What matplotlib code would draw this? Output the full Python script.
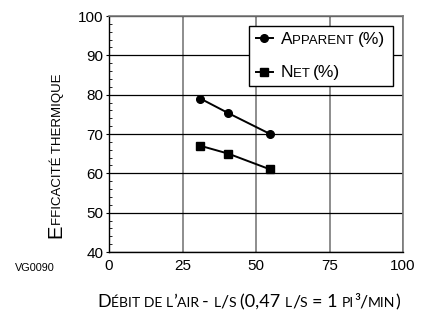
import matplotlib
matplotlib.use('Agg')
import matplotlib.pyplot as plt
from matplotlib.font_manager import FontProperties
from matplotlib.ticker import MultipleLocator
from matplotlib.lines import Line2D

# données
debit = [31.1, 40.6, 54.8]          # L/s
apparent = [79.0, 75.3, 70.0]       # %
net = [67.0, 65.0, 61.0]            # %
x_ticks = [0, 25, 50, 75, 100]
y_ticks = [40, 50, 60, 70, 80, 90, 100]
legend_labels = ['Apparent (%)', 'Net (%)']
x_label = 'Débit de l’air - l/s (0,47 l/s = 1 pi³/min)'
y_label = 'Efficacité thermique'

W, H = 423, 316
fig = plt.figure(figsize=(W / 100, H / 100), dpi=100)
ax = fig.add_axes([109 / W, 1 - 252 / H, 294 / W, 236 / H])

ax.plot(debit, apparent, color='black', lw=1.4, marker='o', ms=5.5, zorder=3)
ax.plot(debit, net, color='black', lw=1.4, marker='s', ms=5.5, zorder=3)

ax.set_xlim(0, 100)
ax.set_ylim(40, 100)
ax.set_xticks(x_ticks)
ax.set_yticks(y_ticks)
ax.yaxis.set_minor_locator(MultipleLocator(2))

ax.yaxis.grid(True, color='black', lw=0.9)
ax.xaxis.grid(True, color='#7a7a7a', lw=1.2)
ax.set_axisbelow(True)

for s in ['left', 'bottom']:
    ax.spines[s].set_color('black')
    ax.spines[s].set_linewidth(1.0)
for s in ['top', 'right']:
    ax.spines[s].set_color('#7a7a7a')
    ax.spines[s].set_linewidth(1.2)

ax.tick_params(axis='x', which='major', length=0, pad=5)
ax.tick_params(axis='y', which='major', direction='out', length=2.5, width=0.8, pad=1.5)
ax.tick_params(axis='y', which='minor', direction='in', length=2.5, width=0.6)
for lab in ax.get_xticklabels() + ax.get_yticklabels():
    lab.set_fontfamily('Liberation Sans')
    lab.set_fontsize(11)

# légende : textes cachés, remplacés ensuite par des petites capitales
handles = [Line2D([], [], color='black', lw=1.4, marker='o', ms=5.5),
           Line2D([], [], color='black', lw=1.4, marker='s', ms=5.5)]
leg = ax.legend(handles, [l.upper() for l in legend_labels], loc='upper right',
                bbox_to_anchor=((393 - 109) / 294, (252 - 26) / 236),
                borderaxespad=0, fancybox=False, framealpha=1,
                edgecolor='black', handlelength=1.15, handletextpad=0.55,
                borderpad=0.45, labelspacing=1.3,
                prop={'family': 'Liberation Sans', 'size': 10.6})
leg.get_frame().set_linewidth(1.0)
for t in leg.get_texts():
    t.set_color('none')

fig.text(15 / W, 1 - 268 / H, 'VG0090', fontsize=7.8, family='Liberation Sans',
         ha='left', va='center')

fig.canvas.draw()
renderer = fig.canvas.get_renderer()


def text_width(txt, fp):
    a = renderer.get_text_width_height_descent(txt + '|', fp, ismath=False)[0]
    b = renderer.get_text_width_height_descent('|', fp, ismath=False)[0]
    return a - b


def smallcaps(x, y, s, big, small, family, rotation=0):
    # x, y : pixels, origine en bas à gauche, départ sur la ligne de base
    runs = []
    for ch in s:
        if ch == ' ' and runs:
            low = runs[-1][1]
        else:
            low = ch.islower()
        if runs and runs[-1][1] == low:
            runs[-1][0] += ch
        else:
            runs.append([ch, low])
    for txt, low in runs:
        fp = FontProperties(family=family, size=small if low else big)
        txt = txt.upper() if low else txt
        fig.text(x / W, y / H, txt, fontproperties=fp, rotation=rotation,
                 rotation_mode='anchor', ha='left', va='baseline')
        w = text_width(txt, fp)
        if rotation == 90:
            y += w
        else:
            x += w


for t, label in zip(leg.get_texts(), legend_labels):
    bb = t.get_window_extent(renderer)
    d = renderer.get_text_width_height_descent('lp', t.get_fontproperties(), ismath=False)[2]
    smallcaps(bb.x0, bb.y0 + d, label, 12.5, 9.5, 'Liberation Sans')
    t.set_visible(False)

smallcaps(97, H - 307, x_label, 13.0, 10.1, 'Lato')
smallcaps(61.5, H - 238, y_label, 14.5, 9.5, 'Liberation Sans', rotation=90)

fig.savefig('out.png', dpi=100)
